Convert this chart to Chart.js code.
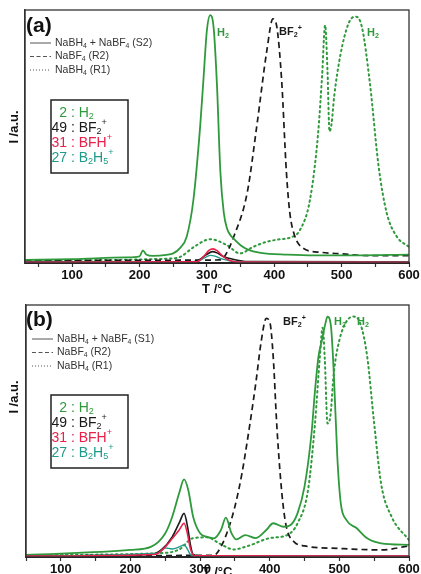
<!DOCTYPE html>
<html>
<head>
<meta charset="utf-8">
<script src="https://cdn.jsdelivr.net/npm/chart.js@4.4.1/dist/chart.umd.min.js"></script>
<style>
html, body { margin: 0; padding: 0; background: #fff; overflow: hidden; }
#wrap { position: relative; width: 421px; height: 574px; }
.panel { position: absolute; left: 0; width: 421px; height: 300px; }
</style>
</head>
<body>
<div id="wrap">
  <div class="panel" style="top:0"><canvas id="chartA" width="421" height="300"></canvas></div>
  <div class="panel" style="top:290px"><canvas id="chartB" width="421" height="300"></canvas></div>
</div>
<script>
// Axis ticks (°C), 50-step minor ticks, labels every 100
const xTicks = [50, 100, 150, 200, 250, 300, 350, 400, 450, 500, 550, 600];

// Panel (a): [T, intensity]
const a_S2_H2 = [[30,1.2],[100,1.5],[180,2.2],[200,2.6],[205,5],[210,3.4],[220,2.8],[240,3.2],[250,3.8],[260,5.9],[270,10.4],[280,25],[290,54],[295,73],[300,92],[305,98],[310,93],[315,70],[320,36],[325,20],[330,13.5],[335,11],[340,9.5],[350,7],[360,5.4],[380,4],[420,3.3],[460,3],[520,3],[600,3.3]];
const a_R2_BF2 = [[30,1],[320,1.2],[326,2.5],[340,10.5],[360,28],[374,54],[389,84],[398,96.5],[404,93],[411,72],[418,36],[423,20],[430,11],[443,5.8],[470,4.2],[500,3.6],[540,2.9],[600,2.9]];
const a_R1_H2 = [[30,1],[250,1.8],[261,2.5],[281,6.4],[305,9.4],[330,7],[349,3.8],[369,6.4],[389,8.4],[409,9.4],[423,10],[438,13],[453,25],[465,51],[471,74],[475.5,94],[479,76],[482,52],[485,55],[489,66],[498,82],[510,94.5],[520,97.4],[530,93.4],[542,71],[555,38],[567,19.7],[582,10.4],[600,6.4]];
const a_S2_BF2 = [[30,0.5],[280,0.5],[290,1.5],[300,3.4],[308,4.5],[315,4],[325,2.5],[340,1.4],[360,0.6],[600,0.5]];
const a_S2_BFH = [[30,0.3],[285,0.5],[295,2.5],[303,5],[309,5.6],[315,4.9],[323,2.8],[333,1.1],[345,0.4],[600,0.3]];
const a_S2_B2H5 = [[30,0.3],[285,0.5],[295,1.8],[305,3],[312,2.7],[322,1.6],[335,0.8],[350,0.4],[600,0.3]];

// Panel (b)
const b_S1_H2 = [[50,0.8],[200,2.8],[230,4.1],[250,9.4],[260,16],[270,25.4],[277,30.8],[283,26.6],[290,16],[300,9.4],[310,8],[320,7.4],[330,10.7],[337,15.6],[345,9.5],[352,7],[365,8.7],[380,7.5],[395,10.7],[405,13.4],[420,12],[430,12.7],[440,17.4],[450,28],[460,49],[465,66],[470,79.5],[475,86],[480,92.7],[483,95.4],[488,91.4],[492,73],[497,40],[502,21.4],[510,14.7],[525,11.4],[540,7.4],[560,5.4],[600,4.8]];
const b_R2_BF2 = [[50,0.5],[320,0.7],[330,4.1],[340,10.7],[350,20],[360,33],[370,50],[380,69],[388,86],[395,94.7],[400,93.4],[405,79.5],[410,53],[415,33],[420,18.7],[425,10.7],[435,6],[450,4.4],[500,3.4],[560,2.8],[600,4.4]];
const b_R1_H2 = [[50,0.8],[240,1.5],[270,3],[290,7.5],[310,7.8],[330,5],[348,3],[370,4.5],[400,7.5],[425,8.7],[440,13.4],[455,26.6],[465,53],[472,79.5],[476,91],[479,79],[483,53],[487,55.7],[492,73],[500,86],[510,93.4],[520,95.4],[530,92.7],[540,79.5],[550,53],[560,29],[575,16],[600,6.7]];
const b_S1_BF2 = [[50,0.5],[230,1],[245,3],[260,8],[270,13.5],[277,17.3],[282,12],[286,5],[290,1],[300,0.4],[600,0.4]];
const b_S1_BFH = [[50,0.4],[235,1],[250,4],[260,7.3],[270,10.7],[277,13.4],[282,9],[286,3.4],[292,0.5],[600,0.4]];
const b_S1_B2H5 = [[50,0.4],[240,1.5],[250,3.6],[260,3.2],[270,4],[277,4.8],[282,3],[286,1],[292,0.4],[600,0.4]];

const GREEN = '#2f9a3c';
const RED = '#e8204a';
const TEAL = '#1f9a8a';
const BLACK = '#1a1a1a';
const FONT = '"Liberation Sans", Arial, sans-serif';

function pts(arr) {
    return arr.map(p => ({ x: p[0], y: p[1] }));
}

function line(data, color, dash, width) {
    return {
        data: pts(data),
        borderColor: color,
        borderWidth: width || 1.7,
        borderDash: dash || [],
        borderCapStyle: dash && dash[0] < 3 ? 'round' : 'butt',
        pointRadius: 0,
        fill: false,
        cubicInterpolationMode: 'monotone'
    };
}

// text with _x subscripts and ^x superscripts
function drawRich(ctx, x, y, str, size, color, bold, align) {
    const segs = [];
    for (let i = 0; i < str.length; i++) {
        const c = str[i];
        if ((c === '_' || c === '^') && i + 1 < str.length) {
            segs.push({ t: str[i + 1], k: c });
            i++;
        } else if (segs.length && !segs[segs.length - 1].k) {
            segs[segs.length - 1].t += c;
        } else {
            segs.push({ t: c, k: '' });
        }
    }
    const font = s => (bold ? 'bold ' : '') + s + 'px ' + FONT;
    let total = 0;
    segs.forEach(sg => {
        ctx.font = font(sg.k ? size * 0.65 : size);
        sg.w = ctx.measureText(sg.t).width;
        total += sg.w;
    });
    let cx = align === 'right' ? x - total : (align === 'center' ? x - total / 2 : x);
    ctx.fillStyle = color;
    ctx.textBaseline = 'middle';
    ctx.textAlign = 'left';
    segs.forEach(sg => {
        ctx.font = font(sg.k ? size * 0.65 : size);
        const dy = sg.k === '_' ? size * 0.28 : (sg.k === '^' ? -size * 0.38 : 0);
        ctx.fillText(sg.t, cx, y + dy);
        cx += sg.w;
    });
}

function decorPlugin(cfg) {
    return {
        id: 'decor',
        afterDraw(chart) {
            const ctx = chart.ctx;
            const a = chart.chartArea;
            ctx.save();
            // plot frame
            ctx.strokeStyle = '#333';
            ctx.lineWidth = 1.3;
            ctx.strokeRect(a.left, a.top, a.right - a.left, a.bottom - a.top);

            // y title, placed where the original has it
            ctx.save();
            ctx.translate(14, cfg.yTitleY);
            ctx.rotate(-Math.PI / 2);
            drawRich(ctx, 0, 0, 'I /a.u.', 13, '#111', true, 'center');
            ctx.restore();

            // panel letter
            drawRich(ctx, 26, cfg.letterY, cfg.letter, 21, '#111', true);

            // line-style legend
            const styles = [[], [4, 2.5], [1, 2]];
            cfg.legend.forEach((txt, i) => {
                const y = cfg.legY + i * 13.5;
                ctx.beginPath();
                ctx.setLineDash(styles[i]);
                ctx.strokeStyle = '#555';
                ctx.lineWidth = 1;
                ctx.moveTo(cfg.sampleX, y);
                ctx.lineTo(cfg.sampleX + 21, y);
                ctx.stroke();
                ctx.setLineDash([]);
                drawRich(ctx, cfg.sampleX + 25, y, txt, 10.5, '#333', false);
            });

            // mass legend box
            ctx.strokeStyle = '#222';
            ctx.lineWidth = 1.5;
            ctx.strokeRect(51, cfg.boxY, 77, 73);
            const masses = [['2', 'H_2', GREEN], ['49', 'BF_2^+', BLACK], ['31', 'BFH^+', RED], ['27', 'B_2H_5^+', TEAL]];
            masses.forEach((m, i) => {
                const y = cfg.boxY + 13 + i * 15;
                drawRich(ctx, 67, y, m[0], 14, m[2], false, 'right');
                drawRich(ctx, 67, y, ' : ' + m[1], 14, m[2], false);
            });

            // peak labels
            cfg.peaks.forEach(p => drawRich(ctx, p[0], p[1], p[2], 11, p[3], true));
            ctx.restore();
        }
    };
}

function makeChart(id, cfg, sets) {
    return new Chart(document.getElementById(id), {
        type: 'line',
        data: { datasets: sets },
        options: {
            responsive: false,
            animation: false,
            layout: { padding: { top: cfg.padTop, right: 12, left: 0, bottom: 0 } },
            plugins: { legend: { display: false }, tooltip: { enabled: false } },
            scales: {
                x: {
                    type: 'linear',
                    min: cfg.xMin,
                    max: 600,
                    afterBuildTicks: s => { s.ticks = xTicks.map(v => ({ value: v })); },
                    afterFit: s => { s.height = cfg.axisH; },
                    ticks: {
                        autoSkip: false,
                        maxRotation: 0,
                        padding: 1,
                        color: '#111',
                        font: { family: FONT, size: 13, weight: 'bold' },
                        callback: v => (v % 100 === 0 ? v : '')
                    },
                    grid: { drawOnChartArea: false, tickLength: 4, color: '#333', tickWidth: 1.2 },
                    border: { color: '#111', width: 2 },
                    title: {
                        display: true,
                        text: 'T /°C',
                        color: '#111',
                        font: { family: FONT, size: 13, weight: 'bold' },
                        padding: { top: 0, bottom: cfg.titlePad }
                    }
                },
                y: {
                    min: 0,
                    max: 100,
                    afterFit: s => { s.width = cfg.yW; },
                    ticks: { display: false },
                    grid: { display: false },
                    border: { color: '#333', width: 1.3 }
                }
            }
        },
        plugins: [decorPlugin(cfg)]
    });
}

makeChart('chartA', {
    xMin: 30, padTop: 10, axisH: 37, titlePad: 3, yW: 25, yTitleY: 127,
    letter: '(a)', letterY: 26,
    legend: ['NaBH_4 + NaBF_4 (S2)', 'NaBF_4 (R2)', 'NaBH_4 (R1)'], legY: 43, sampleX: 30,
    boxY: 100,
    peaks: [[217, 33, 'H_2', GREEN], [279, 32, 'BF_2^+', BLACK], [367, 33, 'H_2', GREEN]]
}, [
    line(a_S2_BFH, RED, null, 1.6),
    line(a_S2_B2H5, TEAL, null, 1.4),
    line(a_S2_BF2, BLACK, null, 1.6),
    line(a_S2_H2, GREEN, null, 1.8),
    line(a_R2_BF2, BLACK, [6, 4], 1.7),
    line(a_R1_H2, GREEN, [1.5, 3.5], 2)
]);

makeChart('chartB', {
    xMin: 50, padTop: 15, axisH: 33, titlePad: 10, yW: 26, yTitleY: 107,
    letter: '(b)', letterY: 30,
    legend: ['NaBH_4 + NaBF_4 (S1)', 'NaBF_4 (R2)', 'NaBH_4 (R1)'], legY: 49, sampleX: 32,
    boxY: 105,
    peaks: [[283, 32, 'BF_2^+', BLACK], [334, 32, 'H_2', GREEN], [357, 32, 'H_2', GREEN]]
}, [
    line(b_S1_BFH, RED, null, 1.6),
    line(b_S1_B2H5, TEAL, null, 1.4),
    line(b_S1_BF2, BLACK, null, 1.6),
    line(b_S1_H2, GREEN, null, 1.8),
    line(b_R2_BF2, BLACK, [6, 4], 1.7),
    line(b_R1_H2, GREEN, [1.5, 3.5], 2)
]);
</script>
</body>
</html>
